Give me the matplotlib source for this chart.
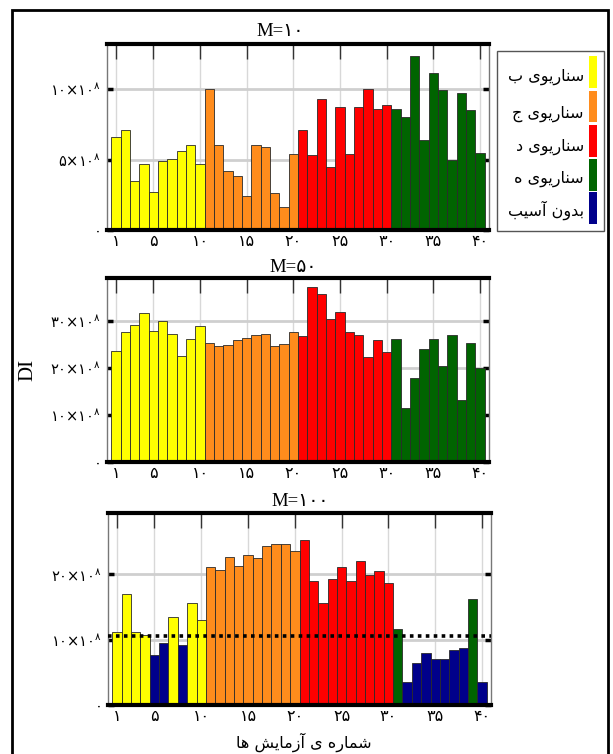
import matplotlib
matplotlib.use("Agg")
import matplotlib.pyplot as plt
from matplotlib.patches import Rectangle

# ---------------- data (values in units of 10^8) ----------------
trials = list(range(1, 41))

m10_values = [6.6, 7.1, 3.5, 4.65, 2.7, 4.9, 5.05, 5.6, 6.0, 4.7,
              10.0, 6.0, 4.2, 3.85, 2.4, 6.0, 5.9, 2.65, 1.6, 5.4,
              7.1, 5.35, 9.3, 4.5, 8.75, 5.4, 8.75, 10.0, 8.6, 8.9,
              8.6, 8.0, 12.35, 6.4, 11.15, 9.95, 4.95, 9.75, 8.55, 5.5]
m10_classes = ['b'] * 10 + ['c'] * 10 + ['d'] * 10 + ['e'] * 10

m50_values = [23.7, 27.8, 29.2, 31.7, 28.0, 30.0, 27.3, 22.5, 26.1, 29.0,
              25.4, 24.7, 24.9, 25.9, 26.4, 27.0, 27.2, 24.7, 25.2, 27.8,
              26.8, 37.2, 35.7, 30.4, 31.9, 27.8, 27.0, 22.3, 25.9, 23.4,
              26.3, 11.5, 18.0, 24.0, 26.2, 20.5, 27.0, 13.3, 25.4, 20.0]
m50_classes = ['b'] * 10 + ['c'] * 10 + ['d'] * 10 + ['e'] * 10

m100_values = [11.2, 17.05, 11.25, 10.75, 7.6, 9.5, 13.5, 9.25, 15.6, 13.0,
               21.2, 20.7, 22.6, 21.3, 23.0, 22.5, 24.3, 24.7, 24.6, 23.6,
               25.2, 19.0, 15.6, 19.3, 21.1, 19.0, 22.0, 19.95, 20.5, 18.7,
               11.65, 3.55, 6.5, 8.0, 7.1, 7.05, 8.45, 8.75, 16.3, 3.55]
m100_classes = ['b', 'b', 'b', 'b', 'n', 'n', 'b', 'n', 'b', 'b'] + ['c'] * 10 + \
               ['d'] * 10 + ['e', 'n', 'n', 'n', 'n', 'n', 'n', 'n', 'e', 'n']
m100_threshold = 10.6

panel_titles = ['M=۱۰', 'M=۵۰', 'M=۱۰۰']
panel_ylims = [13.2, 39.2, 29.4]
panel_yticks = [[0, 5, 10], [0, 10, 20, 30], [0, 10, 20]]

xticks = [1, 5, 10, 15, 20, 25, 30, 35, 40]
fa_digits = str.maketrans('0123456789', '۰۱۲۳۴۵۶۷۸۹')

legend_keys = ['b', 'c', 'd', 'e', 'n']
legend_labels = ['سناریوی ب', 'سناریوی ج', 'سناریوی د', 'سناریوی ه', 'بدون آسیب']
colors = {'b': '#FFFF00', 'c': '#FF8C1C', 'd': '#FF0000', 'e': '#006400', 'n': '#00008B'}

xlabel_text = 'شماره ی آزمایش ها'
ylabel_text = 'DI'

# ---------------- simple Arabic-script shaping ----------------
FORMS = {
    'ا': ('\uFE8D', '\uFE8E', None, None),
    'آ': ('\uFE81', '\uFE82', None, None),
    'ب': ('\uFE8F', '\uFE90', '\uFE91', '\uFE92'),
    'ج': ('\uFE9D', '\uFE9E', '\uFE9F', '\uFEA0'),
    'د': ('\uFEA9', '\uFEAA', None, None),
    'ر': ('\uFEAD', '\uFEAE', None, None),
    'ز': ('\uFEAF', '\uFEB0', None, None),
    'س': ('\uFEB1', '\uFEB2', '\uFEB3', '\uFEB4'),
    'ش': ('\uFEB5', '\uFEB6', '\uFEB7', '\uFEB8'),
    'م': ('\uFEE1', '\uFEE2', '\uFEE3', '\uFEE4'),
    'ن': ('\uFEE5', '\uFEE6', '\uFEE7', '\uFEE8'),
    'ه': ('\uFEE9', '\uFEEA', '\uFEEB', '\uFEEC'),
    'و': ('\uFEED', '\uFEEE', None, None),
    'ی': ('\uFEEF', '\uFEF0', '\uFEF3', '\uFEF4'),
}


def shape(s):
    out = []
    for i, c in enumerate(s):
        if c not in FORMS:
            out.append(c)
            continue
        f = FORMS[c]
        prev = s[i - 1] if i > 0 else None
        nxt = s[i + 1] if i + 1 < len(s) else None
        jp = prev in FORMS and FORMS[prev][2] is not None
        jn = nxt in FORMS and f[2] is not None
        if jp and jn:
            g = f[3]
        elif jp:
            g = f[1]
        elif jn:
            g = f[2]
        else:
            g = f[0]
        out.append(g)
    return ''.join(reversed(out))


def fa(n):
    return str(n).translate(fa_digits)


def ylab(v):
    if v == 0:
        return '۰'
    return r'$\mathregular{' + fa(v) + r'{\times}' + fa(10) + r'^{' + fa(8) + r'}}$'


W, H = 613, 754
fig = plt.figure(figsize=(W / 100, H / 100), dpi=100)


def fx(px):
    return px / W


def fy(py):
    return 1 - py / H


# outer frame
fig.patches.append(Rectangle((fx(12), fy(770)), fx(608) - fx(12), fy(10) - fy(770),
                             transform=fig.transFigure, fill=False, ec='black', lw=2,
                             clip_on=False))

axes_px = [(107, 489, 44, 230), (107, 489, 278, 462), (108, 491, 513, 705)]
title_pos = [(280, 32), (293, 267), (300, 501)]
data = [(m10_values, m10_classes), (m50_values, m50_classes), (m100_values, m100_classes)]

serif_fa = ['Liberation Serif', 'DejaVu Sans']

for k, (l, r, t, b) in enumerate(axes_px):
    ax = fig.add_axes([fx(l), fy(b), fx(r) - fx(l), fy(t) - fy(b)])
    vals, cls = data[k]
    ax.bar(trials, vals, width=1.0, color=[colors[c] for c in cls],
           edgecolor='#2a2a2a', linewidth=0.6, zorder=3)
    ax.set_xlim(0.04, 40.96)
    ax.set_ylim(0, panel_ylims[k])
    ax.set_xticks(xticks)
    ax.set_xticklabels([fa(v) for v in xticks], fontsize=11.5)
    ax.set_yticks(panel_yticks[k])
    ax.set_yticklabels([ylab(v) for v in panel_yticks[k]], fontsize=10.5)
    ax.grid(True, axis='x', color='#d8d8d8', lw=1.0, zorder=0)
    ax.grid(True, axis='y', color='#cfcfcf', lw=2.0, zorder=0)
    ax.set_axisbelow(True)
    ax.tick_params(axis='x', which='both', bottom=False, top=True, labelbottom=True,
                   direction='in', length=11, width=1.0, color='#333333', pad=3)
    ax.tick_params(axis='y', which='both', left=True, right=True, direction='in',
                   length=4, width=2.5, color='black', pad=4)
    for side in ['top', 'bottom']:
        ax.spines[side].set_linewidth(3)
        ax.spines[side].set_color('black')
        ax.spines[side].set_zorder(5)
    for side in ['left', 'right']:
        ax.spines[side].set_linewidth(1.0)
        ax.spines[side].set_color('#777777')
    if k == 2:
        ax.axhline(m100_threshold, color='black', lw=2.6, ls=(0, (1, 1.2)), zorder=4)
    tx, ty = title_pos[k]
    fig.text(fx(tx), fy(ty), panel_titles[k], ha='center', va='center',
             fontsize=13.5, family=serif_fa)

# y label
fig.text(fx(28), fy(370), ylabel_text, rotation=90, ha='center', va='center',
         fontsize=15, family='Liberation Serif')
# x label
fig.text(fx(304), fy(742), shape(xlabel_text), ha='center', va='center', fontsize=11.5,
         family='DejaVu Sans')

# legend box
fig.patches.append(Rectangle((fx(497), fy(231)), fx(604) - fx(497), fy(51) - fy(231),
                             transform=fig.transFigure, fill=True, fc='white',
                             ec='#555555', lw=1.0))
patch_y = [(56, 88), (91, 122), (125, 157), (159, 191), (192, 224)]
text_y = [77, 114, 147, 179, 210]
for key, lab, (y0, y1), tyy in zip(legend_keys, legend_labels, patch_y, text_y):
    fig.patches.append(Rectangle((fx(589), fy(y1)), fx(597) - fx(589), fy(y0) - fy(y1),
                                 transform=fig.transFigure, fc=colors[key], ec='none'))
    fig.text(fx(584), fy(tyy), shape(lab), ha='right', va='center', fontsize=11.5,
             family='DejaVu Sans')

fig.savefig('out.png', dpi=100)
